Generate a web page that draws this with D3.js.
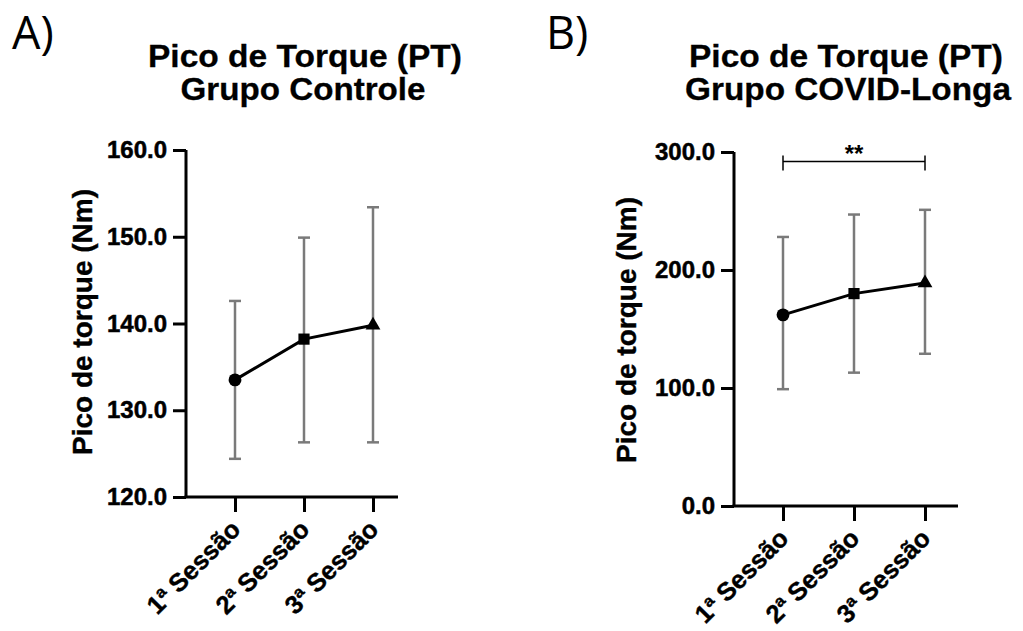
<!DOCTYPE html>
<html>
<head>
<meta charset="utf-8">
<script src="https://cdn.jsdelivr.net/npm/d3@7"></script>
<style>
  body { margin: 0; background: #fff; }
  text { font-family: "Liberation Sans", Arial, sans-serif; }
</style>
</head>
<body>
<svg id="svg1" width="1023" height="631"></svg>
<script>
// sessions on the x axis
var sessions = ['1ª Sessão', '2ª Sessão', '3ª Sessão'];
var markers = ['circle', 'square', 'triangle'];

// panel A - grupo controle
var ctrlMean = [133.5, 138.2, 139.8];
var ctrlUpper = [142.6, 149.9, 153.4];
var ctrlLower = [124.4, 126.3, 126.3];
var ctrlTicks = [120, 130, 140, 150, 160];

// panel B - grupo COVID-longa
var covidMean = [162, 180, 189];
var covidUpper = [228, 247, 251];
var covidLower = [99, 113, 129];
var covidTicks = [0, 100, 200, 300];

var svg = d3.select('#svg1');

function drawPanel(opt) {
    var g = svg.append('g');

    var x = d3.scalePoint().domain(sessions).range(opt.xRange);
    var y = d3.scaleLinear().domain(opt.yDomain).range([opt.y0, opt.y1]);

    // letter A) / B)
    g.append('text')
        .attr('x', opt.letterX)
        .attr('y', 49)
        .style('font-family', '"Open Sans", sans-serif')
        .style('font-size', '45px')
        .text(opt.letter);

    // two line title
    var title = g.append('text')
        .attr('text-anchor', 'middle')
        .style('font-size', '32px')
        .style('font-weight', 'bold')
        .attr('stroke', '#000')
        .attr('stroke-width', 0.3);
    title.append('tspan').attr('x', opt.titleX).attr('y', 67)
        .attr('textLength', 314).attr('lengthAdjust', 'spacingAndGlyphs')
        .text('Pico de Torque (PT)');
    title.append('tspan').attr('x', opt.titleX2).attr('y', 100)
        .attr('textLength', opt.title2Len).attr('lengthAdjust', 'spacingAndGlyphs')
        .text(opt.title2);

    // y axis
    var yAxis = d3.axisLeft(y)
        .tickValues(opt.ticks)
        .tickSize(13)
        .tickPadding(6)
        .tickFormat(d3.format('.1f'));
    var ya = g.append('g')
        .attr('transform', 'translate(' + opt.x0 + ',0)')
        .call(yAxis);
    ya.selectAll('path, line').attr('stroke', '#000').attr('stroke-width', 3);
    ya.select('.domain').attr('d', 'M0,' + opt.y1 + 'V' + opt.y0);
    ya.selectAll('text')
        .style('font-family', '"Liberation Sans", Arial, sans-serif')
        .style('font-size', '24px')
        .style('font-weight', 'bold')
        .attr('fill', '#000')
        .attr('stroke', '#000')
        .attr('stroke-width', 0.5);

    // x axis
    var xa = g.append('g')
        .attr('transform', 'translate(0,' + opt.y0 + ')')
        .call(d3.axisBottom(x).tickSize(15).tickFormat(''));
    xa.selectAll('path, line').attr('stroke', '#000').attr('stroke-width', 3);
    xa.select('.domain').attr('d', 'M' + (opt.x0 - 1.5) + ',0H' + opt.xEnd);

    g.selectAll('.xlab')
        .data(sessions)
        .enter()
        .append('text')
        .attr('class', 'xlab')
        .attr('text-anchor', 'end')
        .attr('transform', function (d) {
            return 'translate(' + (x(d) + 7) + ',' + (opt.y0 + 34) + ') rotate(-45)';
        })
        .style('font-size', '25.5px')
        .style('font-weight', 'bold')
        .attr('stroke', '#000')
        .attr('stroke-width', 0.4)
        .text(function (d) { return d; });

    // y axis title
    g.append('text')
        .attr('transform', 'translate(' + opt.labelX + ',' + opt.labelY + ') rotate(-90)')
        .attr('text-anchor', 'middle')
        .style('font-size', '28px')
        .style('font-weight', 'bold')
        .attr('stroke', '#000')
        .attr('stroke-width', 0.4)
        .text('Pico de torque (Nm)');

    // error bars
    var eb = g.selectAll('.err')
        .data(sessions)
        .enter()
        .append('g')
        .attr('class', 'err')
        .attr('stroke', '#7a7a7a')
        .attr('stroke-width', 2.5);
    eb.append('line')
        .attr('x1', function (d) { return x(d); })
        .attr('x2', function (d) { return x(d); })
        .attr('y1', function (d, i) { return y(opt.upper[i]); })
        .attr('y2', function (d, i) { return y(opt.lower[i]); });
    eb.append('line')
        .attr('x1', function (d) { return x(d) - 6; })
        .attr('x2', function (d) { return x(d) + 6; })
        .attr('y1', function (d, i) { return y(opt.upper[i]); })
        .attr('y2', function (d, i) { return y(opt.upper[i]); });
    eb.append('line')
        .attr('x1', function (d) { return x(d) - 6; })
        .attr('x2', function (d) { return x(d) + 6; })
        .attr('y1', function (d, i) { return y(opt.lower[i]); })
        .attr('y2', function (d, i) { return y(opt.lower[i]); });

    // mean line
    var line = d3.line()
        .x(function (d, i) { return x(sessions[i]); })
        .y(function (d) { return y(d); });
    g.append('path')
        .datum(opt.mean)
        .attr('d', line)
        .attr('fill', 'none')
        .attr('stroke', '#000')
        .attr('stroke-width', 3);

    // markers
    var symbolTypes = { circle: d3.symbolCircle, square: d3.symbolSquare, triangle: d3.symbolTriangle };
    var symbolSizes = { circle: 130, square: 125, triangle: 95 };
    g.selectAll('.mark')
        .data(opt.mean)
        .enter()
        .append('path')
        .attr('class', 'mark')
        .attr('transform', function (d, i) { return 'translate(' + x(sessions[i]) + ',' + y(d) + ')'; })
        .attr('d', function (d, i) {
            return d3.symbol().type(symbolTypes[markers[i]]).size(symbolSizes[markers[i]])();
        })
        .attr('fill', '#000');

    return { x: x, y: y, g: g };
}

drawPanel({
    letter: 'A)', letterX: 12, titleX: 305, titleX2: 303, title2: 'Grupo Controle', title2Len: 245,
    x0: 186, xEnd: 398, xRange: [235, 373],
    yDomain: [120, 160], y0: 497, y1: 150, ticks: ctrlTicks,
    labelX: 92, labelY: 322,
    mean: ctrlMean, upper: ctrlUpper, lower: ctrlLower
});

var b = drawPanel({
    letter: 'B)', letterX: 546, titleX: 846, titleX2: 848, title2: 'Grupo COVID-Longa', title2Len: 326,
    x0: 734, xEnd: 958, xRange: [783, 925],
    yDomain: [0, 300], y0: 506, y1: 152, ticks: covidTicks,
    labelX: 636, labelY: 330,
    mean: covidMean, upper: covidUpper, lower: covidLower
});

// significance bracket 1ª vs 3ª
var bracketY = b.y(292);
var bx1 = b.x(sessions[0]), bx2 = b.x(sessions[2]);
var br = b.g.append('g').attr('stroke', '#000').attr('stroke-width', 1.5);
br.append('line').attr('x1', bx1).attr('x2', bx2).attr('y1', bracketY).attr('y2', bracketY);
br.append('line').attr('x1', bx1).attr('x2', bx1).attr('y1', bracketY - 6).attr('y2', bracketY + 9);
br.append('line').attr('x1', bx2).attr('x2', bx2).attr('y1', bracketY - 6).attr('y2', bracketY + 9);
b.g.append('text')
    .attr('x', (bx1 + bx2) / 2)
    .attr('y', bracketY + 1)
    .attr('text-anchor', 'middle')
    .style('font-size', '24px')
    .style('font-weight', 'bold')
    .text('**');
</script>
</body>
</html>
